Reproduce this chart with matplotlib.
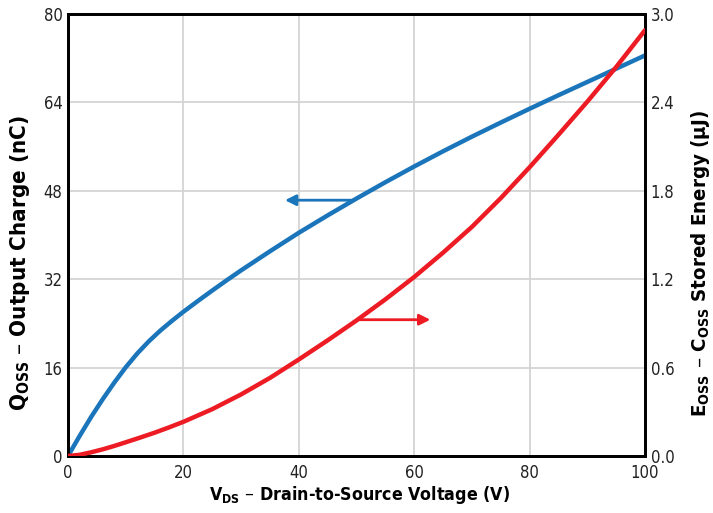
import matplotlib
matplotlib.use("Agg")
import matplotlib.pyplot as plt

plt.rcParams['font.family'] = ['DejaVu Sans']
plt.rcParams['font.stretch'] = 'condensed'

# Data
vds = [0, 2, 4, 6, 8, 10, 12, 14, 16, 18, 20, 22.5, 25, 27.5, 30, 35, 40, 45, 50, 55, 60, 65, 70, 75, 80, 85, 90, 95, 100]
qoss = [0, 3.6, 7.05, 10.25, 13.25, 16.05, 18.55, 20.75, 22.7, 24.45, 26.1, 28.05, 29.95, 31.8, 33.6, 37.05, 40.4, 43.55, 46.6, 49.55, 52.4, 55.15, 57.8, 60.35, 62.85, 65.3, 67.7, 70.1, 72.5]
vds_e = [0, 2, 4, 6, 8, 10, 12.5, 15, 17.5, 20, 25, 30, 35, 40, 45, 50, 55, 60, 65, 70, 75, 80, 85, 90, 95, 100]
eoss = [0, 0.008, 0.025, 0.045, 0.068, 0.093, 0.125, 0.158, 0.194, 0.232, 0.318, 0.418, 0.53, 0.655, 0.785, 0.92, 1.063, 1.215, 1.38, 1.555, 1.75, 1.96, 2.18, 2.405, 2.64, 2.89]

x_ticks = [0, 20, 40, 60, 80, 100]
q_ticks = [0, 16, 32, 48, 64, 80]
e_ticks = [0.0, 0.6, 1.2, 1.8, 2.4, 3.0]
e_labels = ['0.0', '0.6', '1.2', '1.8', '2.4', '3.0']

BLUE = '#1b75bb'
RED = '#ed1c24'

W, H = 713, 513
fig = plt.figure(figsize=(W/100, H/100), dpi=100)
ax = fig.add_axes([68/W, 1 - 456/H, (645-68)/W, (456-14)/H])
ax2 = ax.twinx()

ax.plot(vds, qoss, color=BLUE, lw=3.2, solid_capstyle='round', solid_joinstyle='round', zorder=3)
ax2.plot(vds_e, eoss, color=RED, lw=3.2, solid_capstyle='round', solid_joinstyle='round', zorder=3)

ax.set_xlim(0, 100)
ax.set_ylim(0, 80)
ax2.set_ylim(0, 3.0)
ax.set_xticks(x_ticks)
ax.set_yticks(q_ticks)
ax2.set_yticks(e_ticks)
ax2.set_yticklabels(e_labels)

ax.grid(True, color='#d4d4d4', lw=1.3, zorder=0)
ax.set_axisbelow(True)

for a in (ax, ax2):
    for s in a.spines.values():
        s.set_linewidth(2)
        s.set_color('black')
    a.tick_params(length=0, labelsize=12, colors='#222222', pad=4)
ax.tick_params(axis='x', pad=6)

# arrows
ax.annotate('', xy=(37.6, 46.3), xytext=(49.5, 46.3),
            arrowprops=dict(arrowstyle='-|>', color=BLUE, lw=2, mutation_scale=16, shrinkA=0, shrinkB=0))
ax2.annotate('', xy=(62.8, 0.925), xytext=(50, 0.925),
             arrowprops=dict(arrowstyle='-|>', color=RED, lw=2, mutation_scale=16, shrinkA=0, shrinkB=0))

lab = dict(fontweight='bold', fontstretch='condensed', ha='center', va='center')
fig.text(360/W, 1 - 495/H, r'$\mathregular{V_{DS}}$ – Drain-to-Source Voltage (V)', fontsize=12.8, **lab)
fig.text(20/W, 1 - 263/H, r'$\mathregular{Q_{OSS}}$ – Output Charge (nC)', fontsize=16, rotation=90, **lab)
fig.text(701/W, 1 - 263/H, r'$\mathregular{E_{OSS}}$ – $\mathregular{C_{OSS}}$ Stored Energy (μJ)', fontsize=14.7, rotation=90, **lab)

fig.savefig('out.png', dpi=100)
